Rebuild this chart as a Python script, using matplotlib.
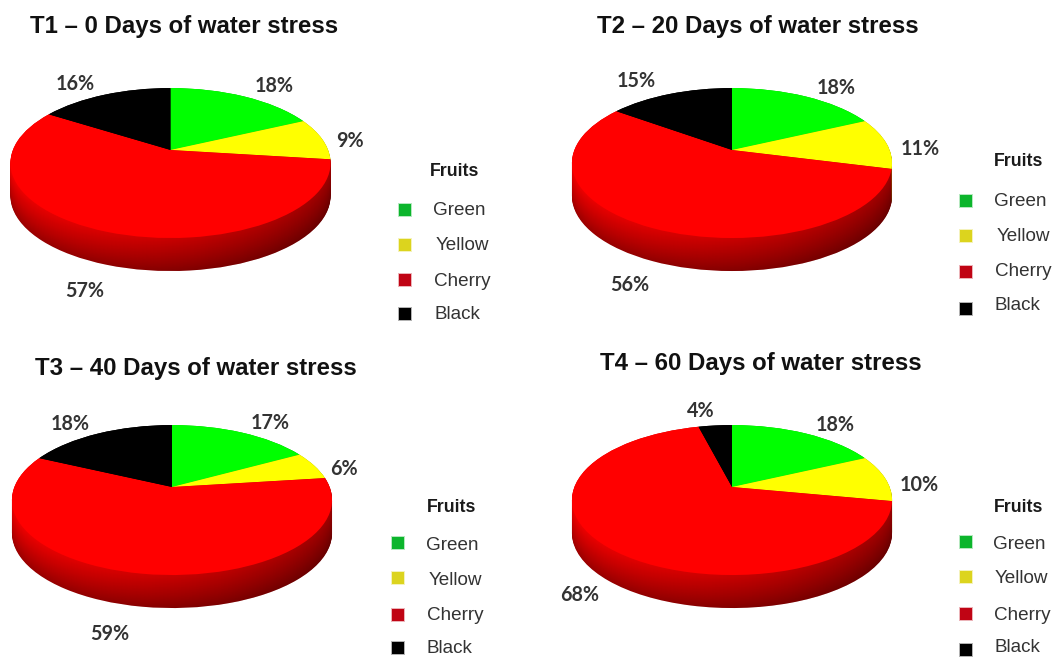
import matplotlib
matplotlib.use('Agg')
import matplotlib.pyplot as plt
import numpy as np
from matplotlib.path import Path
from matplotlib.transforms import Affine2D, IdentityTransform, Transform

W, H = 1055, 657

categories = ['Green', 'Yellow', 'Cherry', 'Black']
slice_colors = ['#00ff00', '#ffff00', '#ff0000', '#000000']
marker_colors = ['#0cb52c', '#dcd41e', '#c00414', '#000000']

titles = ['T1 – 0 Days of water stress', 'T2 – 20 Days of water stress',
          'T3 – 40 Days of water stress', 'T4 – 60 Days of water stress']
t1_values = [18, 9, 57, 16]
t2_values = [18, 11, 56, 15]
t3_values = [17, 6, 59, 18]
t4_values = [18, 10, 68, 4]
all_values = [t1_values, t2_values, t3_values, t4_values]

# layout, all in pixels of the reference
pie_centers = [(170.5, 150), (732, 150), (172, 487), (732, 487)]
title_pos = [(30, 26.5), (597, 26.5), (35, 368.5), (600, 363.5)]
label_pos = [
    [(274, 86), (350, 141), (85, 291), (75, 84)],
    [(836, 88), (920, 149), (630, 285), (636, 81)],
    [(270, 423), (344, 469), (110, 634), (70, 424)],
    [(835, 425), (919, 485), (580, 595), (701, 411)],
]
fruits_pos = [(455, 171), (1019, 162), (452, 507), (1019, 507)]
legend_text_pos = [
    [(433, 210.5), (436, 245.5), (434, 282), (434, 314.5)],
    [(994, 201.5), (997, 236.5), (995, 272), (995, 305.5)],
    [(426, 545.5), (429, 580.5), (427, 616), (427, 648.5)],
    [(993, 544.5), (995, 578.5), (994, 615), (994, 647.5)],
]
legend_marker_pos = [
    [(405, 210), (405, 245), (405, 280), (405, 314)],
    [(966, 201), (966, 236), (966, 272), (966, 309)],
    [(398, 543), (398, 578), (398, 615), (398, 648)],
    [(966, 542), (966, 577), (966, 614), (966, 650)],
]

TILT = 0.174
SX, SY = 157.6, 72.7
DEPTH = 0.454
N_LAYERS = 36


class Perspective(Transform):
    """Tilts the flat pie so the centre sits above the middle of the ellipse."""
    input_dims = 2
    output_dims = 2
    is_separable = False
    has_inverse = False

    def __init__(self, tilt):
        super().__init__()
        self.tilt = tilt

    def transform_non_affine(self, values):
        v = np.asarray(values, dtype=float)
        return v / (1 + self.tilt * v[:, 1])[:, None]


def shade(color, k):
    rgb = np.array(matplotlib.colors.to_rgb(color))
    return tuple(rgb * k)


def draw_pie(fig, values, center):
    cx, cy = center
    left, right = cx - 1.2 * SX, cx + 1.2 * SX
    top, bottom = cy - 1.1 * SY, cy + 1.8 * SY
    ax = fig.add_axes([left / W, 1 - bottom / H, (right - left) / W, (bottom - top) / H])
    ax.patch.set_alpha(0)
    persp = Perspective(TILT)

    # side of the disc: stacked pies going from dark at the bottom to bright at the top
    side_paths = []
    for i in range(N_LAYERS):
        frac = i / (N_LAYERS - 1)
        k = 0.62 + 0.33 * frac ** 0.9
        wedges, _ = ax.pie(values, startangle=90, counterclock=False,
                           colors=[shade(c, k) for c in slice_colors],
                           wedgeprops={'linewidth': 0})
        offset = Affine2D().translate(0, -DEPTH * (1 - frac))
        for w in wedges:
            w.set_transform(persp + offset + ax.transData)
            w.set_zorder(2 + i * 0.01)
            side_paths.append(w)

    # top surface
    wedges, _ = ax.pie(values, startangle=90, counterclock=False,
                       colors=slice_colors, wedgeprops={'linewidth': 0})
    for w in wedges:
        w.set_transform(persp + ax.transData)
        w.set_zorder(10)

    ax.set_aspect('auto')
    ax.set_xlim(-1.2, 1.2)
    ax.set_ylim(-1.8, 1.1)
    ax.axis('off')

    # the side gets darker towards the right
    clip = Path.make_compound_path(*[w.get_transform().transform_path(w.get_path())
                                     for w in side_paths])
    ramp = np.zeros((1, 300, 4))
    ramp[..., 3] = np.linspace(0, 0.45, 300) ** 1.2
    im = ax.imshow(ramp, extent=(-1.2, 1.2, -1.8, 1.1), aspect='auto', zorder=5)
    im.set_clip_path(clip, transform=IdentityTransform())
    ax.set_aspect('auto')
    ax.set_xlim(-1.2, 1.2)
    ax.set_ylim(-1.8, 1.1)


plt.rcParams['font.family'] = ['Liberation Sans', 'DejaVu Sans']
fig = plt.figure(figsize=(W / 100, H / 100), dpi=100, facecolor='white')

for values, center in zip(all_values, pie_centers):
    draw_pie(fig, values, center)

# texts and legend markers go on an overlay in pixel coordinates
over = fig.add_axes([0, 0, 1, 1], zorder=20)
over.set_xlim(0, W)
over.set_ylim(H, 0)
over.axis('off')

for n in range(4):
    over.text(*title_pos[n], titles[n], fontsize=17.25, fontweight='bold',
              color='#111111', ha='left', va='center')
    over.text(*fruits_pos[n], 'Fruits', fontsize=12.8, fontweight='bold',
              color='#1a1a1a', ha='center', va='center')
    for j, cat in enumerate(categories):
        over.text(*label_pos[n][j], f'{all_values[n][j]}%', fontsize=14.2, fontweight='bold',
                  family=['Lato', 'DejaVu Sans'], color='#333333',
                  ha='center', va='center')
        over.text(*legend_text_pos[n][j], cat, fontsize=13.6, color='#333333',
                  ha='left', va='center')
        mx, my = legend_marker_pos[n][j]
        # soft edge around the small legend squares
        over.plot([mx], [my], 's', ms=10.5, color=marker_colors[j], mew=0, alpha=0.3)
        over.plot([mx], [my], 's', ms=8, color=marker_colors[j], mew=0)

fig.savefig('out.png', dpi=100)
plt.close(fig)
